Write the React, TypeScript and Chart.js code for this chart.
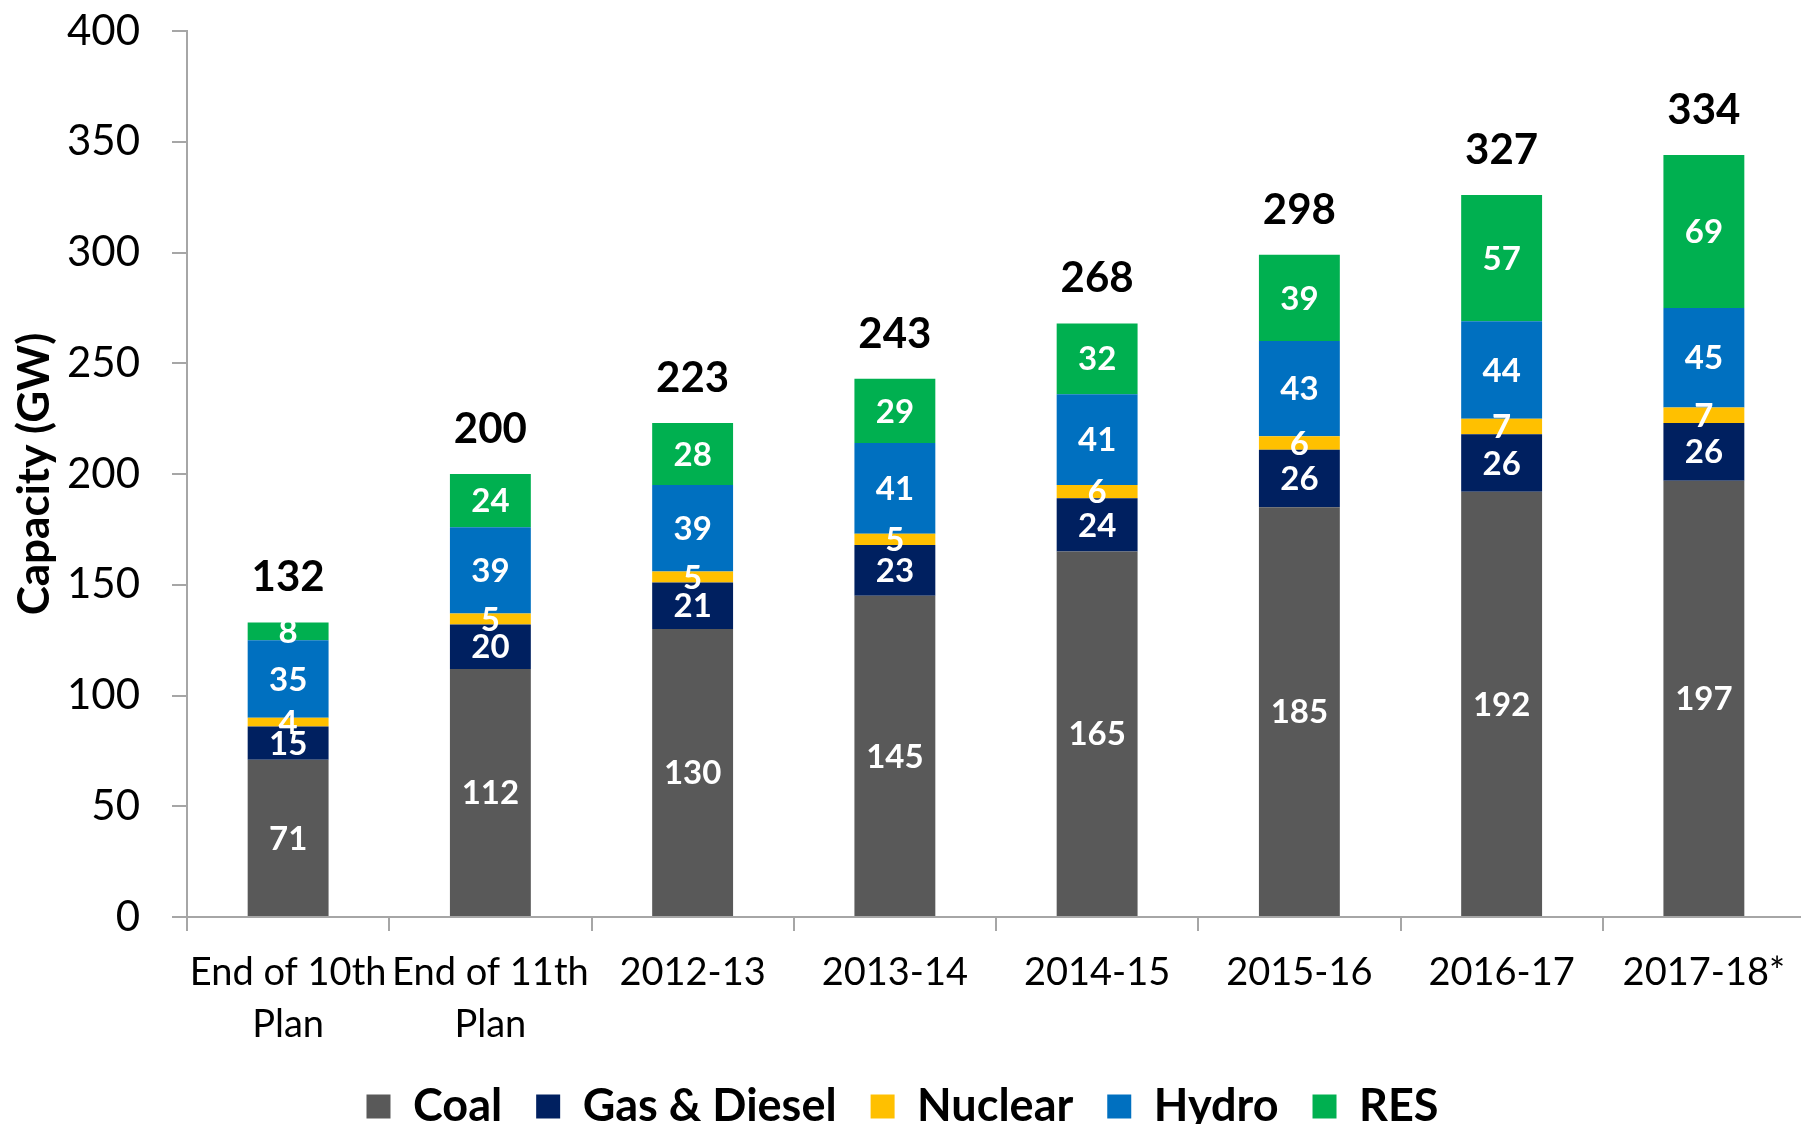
import React, { useEffect, useRef } from "react";
import { Chart, registerables } from "chart.js";

Chart.register(...registerables);

const categories: (string | string[])[] = [
  ["End of 10th", "Plan"],
  ["End of 11th", "Plan"],
  "2012-13",
  "2013-14",
  "2014-15",
  "2015-16",
  "2016-17",
  "2017-18*",
];
const coal = [71, 112, 130, 145, 165, 185, 192, 197];
const gasDiesel = [15, 20, 21, 23, 24, 26, 26, 26];
const nuclear = [4, 5, 5, 5, 6, 6, 7, 7];
const hydro = [35, 39, 39, 41, 41, 43, 44, 45];
const res = [8, 24, 28, 29, 32, 39, 57, 69];
const totals = ["132", "200", "223", "243", "268", "298", "327", "334"];
const yTicks = [0, 50, 100, 150, 200, 250, 300, 350, 400];

const FONT = "Lato";
const AXIS_GREY = "#A6A6A6";
const CANVAS_W = 1805;
const CANVAS_H = 1124;

const labelPlugin = {
  id: "barLabels",
  afterDatasetsDraw(chart: any) {
    const ctx = chart.ctx;
    ctx.save();
    ctx.textAlign = "center";
    ctx.textBaseline = "middle";
    ctx.fillStyle = "#FFFFFF";
    ctx.font = `bold 33px ${FONT}`;
    chart.data.datasets.forEach((ds: any, di: number) => {
      const meta = chart.getDatasetMeta(di);
      meta.data.forEach((el: any, i: number) => {
        const v = ds.data[i];
        const yMid = (el.y + el.base) / 2;
        ctx.fillText(String(v), el.x, yMid + 1);
      });
    });
    const lastMeta = chart.getDatasetMeta(chart.data.datasets.length - 1);
    ctx.fillStyle = "#000000";
    ctx.font = `bold 42px ${FONT}`;
    ctx.textBaseline = "alphabetic";
    lastMeta.data.forEach((el: any, i: number) => {
      ctx.fillText(totals[i], el.x, el.y - 31);
    });
    ctx.restore();
  },
};

export default function App() {
  const canvasRef = useRef<HTMLCanvasElement | null>(null);

  useEffect(() => {
    document.body.style.margin = "0";
    document.body.style.overflow = "hidden";
    const canvas = canvasRef.current;
    if (!canvas) return;
    const mk = (label: string, data: number[], color: string) => ({
      label,
      data,
      backgroundColor: color,
      borderWidth: 0,
      barPercentage: 0.4,
      categoryPercentage: 1,
    });
    const chart = new Chart(canvas, {
      type: "bar",
      data: {
        labels: categories,
        datasets: [
          mk("Coal", coal, "#595959"),
          mk("Gas & Diesel", gasDiesel, "#002060"),
          mk("Nuclear", nuclear, "#FFC000"),
          mk("Hydro", hydro, "#0070C0"),
          mk("RES", res, "#00B050"),
        ],
      },
      options: {
        animation: false,
        responsive: false,
        layout: { padding: { top: 31, right: 0, left: 0, bottom: -15 } },
        plugins: {
          tooltip: { enabled: false },
          legend: {
            position: "bottom",
            labels: {
              boxWidth: 24,
              boxHeight: 24,
              padding: 34,
              color: "#000000",
              font: { family: FONT, size: 45, weight: "bold" },
            },
          },
        },
        scales: {
          x: {
            stacked: true,
            afterFit: (scale: any) => {
              scale.height = 133;
              scale.paddingLeft = 0;
              scale.paddingRight = 0;
            },
            grid: {
              drawOnChartArea: false,
              drawTicks: true,
              tickLength: 14,
              color: AXIS_GREY,
              lineWidth: 2,
              offset: true,
            },
            border: { display: true, color: AXIS_GREY, width: 2 },
            ticks: {
              autoSkip: false,
              maxRotation: 0,
              minRotation: 0,
              padding: 16,
              color: "#000000",
              font: { family: FONT, size: 38, lineHeight: 1.37 },
            },
          },
          y: {
            stacked: true,
            min: 0,
            max: 400,
            afterBuildTicks: (scale: any) => {
              scale.ticks = yTicks.map((v) => ({ value: v }));
            },
            afterFit: (scale: any) => {
              scale.width = 187;
              scale.paddingTop = 0;
              scale.paddingBottom = 0;
            },
            grid: {
              drawOnChartArea: false,
              drawTicks: true,
              tickLength: 15,
              color: AXIS_GREY,
              lineWidth: 2,
            },
            border: { display: true, color: AXIS_GREY, width: 2 },
            ticks: {
              padding: 32,
              color: "#000000",
              font: { family: FONT, size: 42 },
            },
            title: {
              display: true,
              text: "Capacity (GW)",
              color: "#000000",
              padding: { top: 8, bottom: 0 },
              font: { family: FONT, size: 44, weight: "bold" },
            },
          },
        },
      },
      plugins: [labelPlugin],
    });
    return () => chart.destroy();
  }, []);

  return (
    <div
      style={{
        position: "fixed",
        left: 0,
        top: 0,
        width: 1801,
        height: 1124,
        overflow: "hidden",
        background: "#FFFFFF",
      }}
    >
      <canvas ref={canvasRef} width={CANVAS_W} height={CANVAS_H} style={{ display: "block" }} />
    </div>
  );
}
